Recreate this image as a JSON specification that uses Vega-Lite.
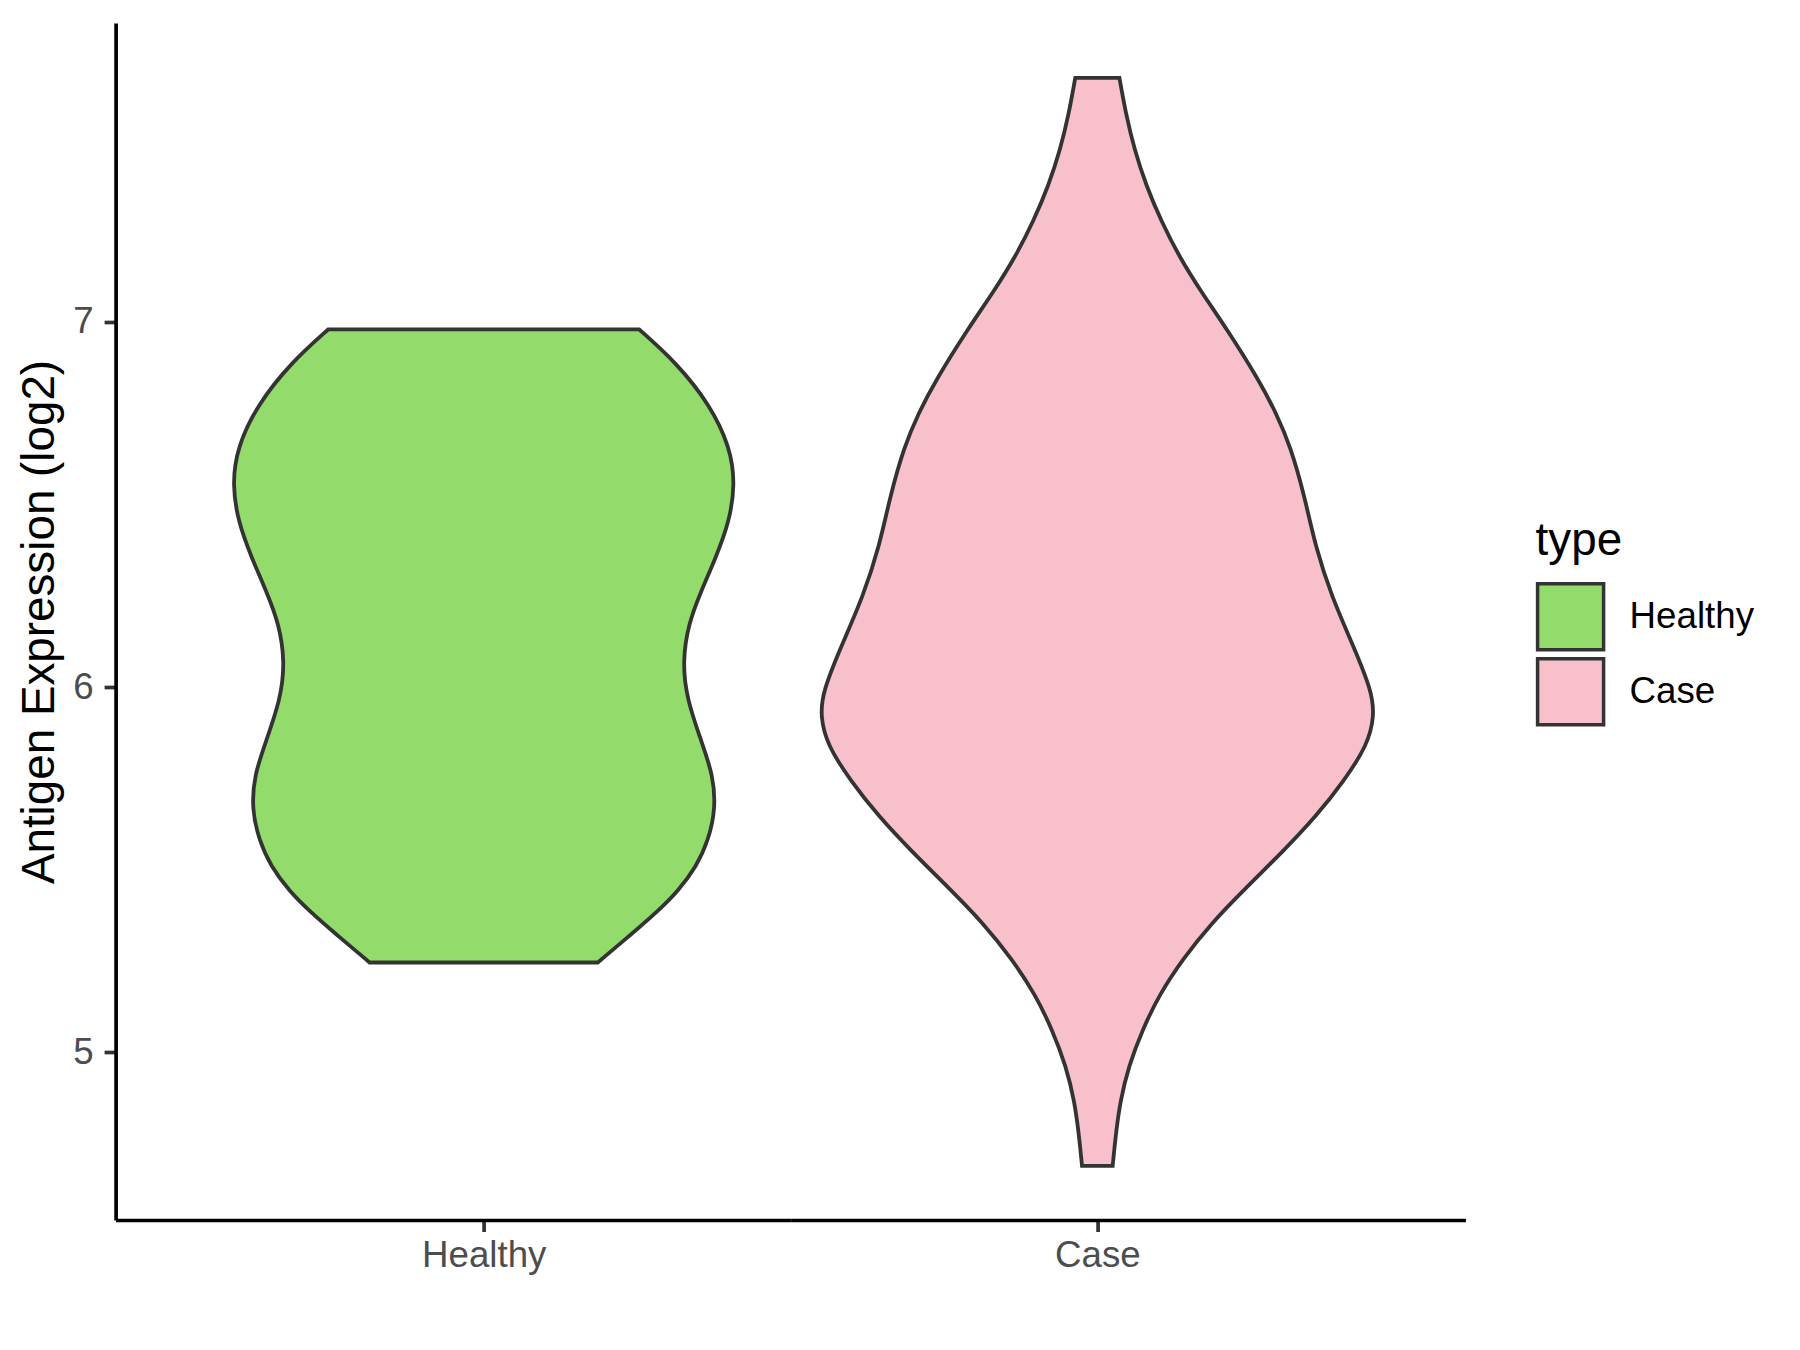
{
  "$schema": "https://vega.github.io/schema/vega-lite/v6.json",
  "background": "white",
  "padding": {"left": 16.6, "top": 23, "right": 0, "bottom": 0},
  "spacing": 0,
  "config": {
    "font": "Liberation Sans",
    "view": {"stroke": null},
    "axis": {
      "grid": false,
      "domainColor": "black",
      "domainWidth": 3.7,
      "tickColor": "#333333",
      "tickWidth": 3.7,
      "tickSize": 11.5,
      "labelColor": "#4D4D4D",
      "labelFont": "Liberation Sans",
      "labelFontSize": 36.7,
      "titleFont": "Liberation Sans",
      "titleFontSize": 45.8,
      "titleFontWeight": "normal",
      "titleColor": "black"
    },
    "legend": {
      "titleFont": "Liberation Sans",
      "titleFontSize": 45.8,
      "titleFontWeight": "normal",
      "titleColor": "black",
      "labelFont": "Liberation Sans",
      "labelFontSize": 36.7,
      "labelColor": "black",
      "symbolType": "square",
      "symbolSize": 4356,
      "symbolStrokeColor": "#333333",
      "symbolStrokeWidth": 3.5,
      "symbolOpacity": 1,
      "rowPadding": -7,
      "labelOffset": 24,
      "titlePadding": 17
    }
  },
  "data": {
    "values": [
      {"type": "Healthy", "value": 5.246, "violin_width": 0.372},
      {"type": "Healthy", "value": 5.321, "violin_width": 0.478},
      {"type": "Healthy", "value": 5.390, "violin_width": 0.572},
      {"type": "Healthy", "value": 5.440, "violin_width": 0.632},
      {"type": "Healthy", "value": 5.509, "violin_width": 0.694},
      {"type": "Healthy", "value": 5.582, "violin_width": 0.733},
      {"type": "Healthy", "value": 5.667, "violin_width": 0.756},
      {"type": "Healthy", "value": 5.759, "violin_width": 0.748},
      {"type": "Healthy", "value": 5.851, "violin_width": 0.710},
      {"type": "Healthy", "value": 5.967, "violin_width": 0.662},
      {"type": "Healthy", "value": 6.071, "violin_width": 0.648},
      {"type": "Healthy", "value": 6.174, "violin_width": 0.668},
      {"type": "Healthy", "value": 6.255, "violin_width": 0.705},
      {"type": "Healthy", "value": 6.359, "violin_width": 0.759},
      {"type": "Healthy", "value": 6.451, "violin_width": 0.800},
      {"type": "Healthy", "value": 6.555, "violin_width": 0.820},
      {"type": "Healthy", "value": 6.658, "violin_width": 0.803},
      {"type": "Healthy", "value": 6.774, "violin_width": 0.737},
      {"type": "Healthy", "value": 6.889, "violin_width": 0.627},
      {"type": "Healthy", "value": 6.979, "violin_width": 0.507},
      {"type": "Case", "value": 4.689, "violin_width": 0.050},
      {"type": "Case", "value": 4.767, "violin_width": 0.059},
      {"type": "Case", "value": 4.865, "violin_width": 0.074},
      {"type": "Case", "value": 4.962, "violin_width": 0.102},
      {"type": "Case", "value": 5.060, "violin_width": 0.146},
      {"type": "Case", "value": 5.158, "violin_width": 0.202},
      {"type": "Case", "value": 5.255, "violin_width": 0.278},
      {"type": "Case", "value": 5.353, "violin_width": 0.371},
      {"type": "Case", "value": 5.451, "violin_width": 0.485},
      {"type": "Case", "value": 5.549, "violin_width": 0.604},
      {"type": "Case", "value": 5.646, "violin_width": 0.713},
      {"type": "Case", "value": 5.744, "violin_width": 0.805},
      {"type": "Case", "value": 5.842, "violin_width": 0.881},
      {"type": "Case", "value": 5.920, "violin_width": 0.903},
      {"type": "Case", "value": 5.988, "violin_width": 0.895},
      {"type": "Case", "value": 6.110, "violin_width": 0.836},
      {"type": "Case", "value": 6.247, "violin_width": 0.764},
      {"type": "Case", "value": 6.384, "violin_width": 0.711},
      {"type": "Case", "value": 6.521, "violin_width": 0.676},
      {"type": "Case", "value": 6.658, "violin_width": 0.630},
      {"type": "Case", "value": 6.750, "violin_width": 0.583},
      {"type": "Case", "value": 6.840, "violin_width": 0.527},
      {"type": "Case", "value": 6.983, "violin_width": 0.420},
      {"type": "Case", "value": 7.080, "violin_width": 0.340},
      {"type": "Case", "value": 7.178, "violin_width": 0.267},
      {"type": "Case", "value": 7.276, "violin_width": 0.208},
      {"type": "Case", "value": 7.373, "violin_width": 0.159},
      {"type": "Case", "value": 7.471, "violin_width": 0.121},
      {"type": "Case", "value": 7.569, "violin_width": 0.093},
      {"type": "Case", "value": 7.668, "violin_width": 0.072}
    ]
  },
  "hconcat": [
    {
      "width": 674.85,
      "height": 1197,
      "transform": [{"filter": "datum.type === 'Healthy'"}],
      "mark": {"type": "area", "orient": "horizontal", "interpolate": "basis", "stroke": "#333333", "strokeWidth": 3.8, "fillOpacity": 1},
      "encoding": {
        "y": {
          "field": "value", "type": "quantitative",
          "scale": {"domain": [4.541, 7.818], "nice": false, "zero": false},
          "axis": {"values": [5, 6, 7], "title": "Antigen Expression (log2)", "labelPadding": 11, "titlePadding": 9}
        },
        "x": {
          "field": "violin_width", "type": "quantitative", "stack": "center",
          "scale": {"domain": [-0.19, 0.91], "nice": false, "zero": false},
          "axis": {"values": [0.41], "labelExpr": "'Healthy'", "title": null, "labelPadding": 6}
        },
        "fill": {
          "field": "type", "type": "nominal",
          "scale": {"domain": ["Healthy", "Case"], "range": ["#93DB6B", "#F7C0CB"]},
          "legend": {"title": "type", "orient": "none", "legendX": 1420, "legendY": 496}
        }
      }
    },
    {
      "width": 674.85,
      "height": 1197,
      "transform": [{"filter": "datum.type === 'Case'"}],
      "mark": {"type": "area", "orient": "horizontal", "interpolate": "basis", "stroke": "#333333", "strokeWidth": 3.8, "fillOpacity": 1},
      "encoding": {
        "y": {
          "field": "value", "type": "quantitative",
          "scale": {"domain": [4.541, 7.818], "nice": false, "zero": false},
          "axis": null
        },
        "x": {
          "field": "violin_width", "type": "quantitative", "stack": "center",
          "scale": {"domain": [-0.0485, 1.0515], "nice": false, "zero": false},
          "axis": {"values": [0.4515], "labelExpr": "'Case'", "title": null, "labelPadding": 6}
        },
        "fill": {
          "field": "type", "type": "nominal",
          "scale": {"domain": ["Healthy", "Case"], "range": ["#93DB6B", "#F7C0CB"]},
          "legend": {"title": "type", "orient": "none", "legendX": 1420, "legendY": 496}
        }
      }
    }
  ],
  "resolve": {"scale": {"x": "independent", "y": "shared", "fill": "shared"}}
}
